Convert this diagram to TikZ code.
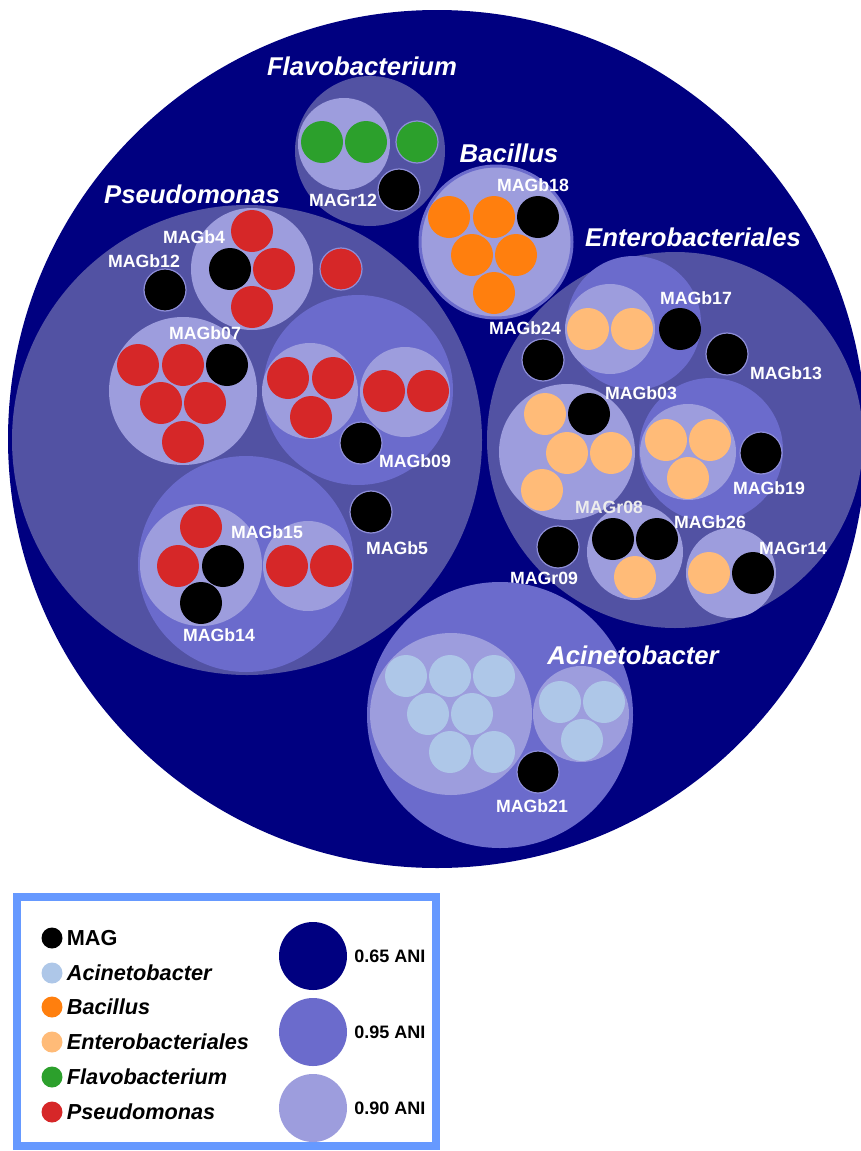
\documentclass[tikz,border=0pt]{standalone}
\usepackage{fontspec}
\setmainfont{Liberation Sans}
\usetikzlibrary{positioning}

\definecolor{navy}{HTML}{000080}
\definecolor{genusblue}{HTML}{5252A3}
\definecolor{anihigh}{HTML}{6B6BCC}
\definecolor{anilow}{HTML}{9D9DDD}
\definecolor{pseudored}{HTML}{D62728}
\definecolor{bacorange}{HTML}{FF7F0E}
\definecolor{enteropeach}{HTML}{FFBB78}
\definecolor{flavogreen}{HTML}{2CA02C}
\definecolor{acinetoblue}{HTML}{AEC7E8}
\definecolor{legendframe}{HTML}{6699FF}

\begin{document}
\begin{tikzpicture}[
    x=1pt, y=-1pt,
    leaf/.style={circle, inner sep=0pt, minimum size=42pt},
    mag/.style={leaf, fill=black},
    pseudo/.style={leaf, fill=pseudored},
    bacil/.style={leaf, fill=bacorange},
    entero/.style={leaf, fill=enteropeach},
    flavo/.style={leaf, fill=flavogreen},
    acineto/.style={leaf, fill=acinetoblue},
    lone/.style={draw=anilow!70!anihigh, line width=1.2pt},
    genus/.style={circle, inner sep=0pt, fill=genusblue},
    ani95/.style={circle, inner sep=0pt, fill=anihigh},
    ani90/.style={circle, inner sep=0pt, fill=anilow},
    taxon/.style={text=white, inner sep=0pt, font=\fontsize{25.7}{30}\selectfont\bfseries\itshape},
    maglabel/.style={text=white, inner sep=0pt, font=\fontsize{17.7}{21}\selectfont\bfseries},
    keydot/.style={circle, inner sep=0pt, minimum size=21pt},
    keytext/.style={inner sep=0pt, font=\fontsize{21.7}{26}\selectfont\bfseries\itshape},
    anitext/.style={inner sep=0pt, font=\fontsize{18}{21}\selectfont\bfseries}
]
\useasboundingbox (0,0) rectangle (861,1151);

% whole sample, 0.65 ANI
\node[circle, inner sep=0pt, fill=navy, minimum size=858pt] (sample) at (437,439) {};

% Flavobacterium
\node[genus, minimum size=150pt] (flavogrp) at (370,151) {};
\node[ani90, minimum size=92pt] (flavoA) at (344,144) {};
\node[flavo] (f1) at (322,142) {};
\node[flavo] (f2) at (366,142) {};
\node[flavo, lone] (f3) at (417,142) {};
\node[mag, lone] (magr12) at (399,190) {};
\node[maglabel] at (343,200) {MAGr12};
\node[taxon] (flavolab) at (362,66) {Flavobacterium};

% Bacillus
\node[ani90, minimum size=152pt, draw=anihigh, line width=3pt] (bacilgrp) at (496,242) {};
\node[bacil] (b1) at (449,217) {};
\node[bacil] (b2) at (494,217) {};
\node[mag] (magb18) at (538,217) {};
\node[bacil] (b3) at (472,255) {};
\node[bacil] (b4) at (516,255) {};
\node[bacil] (b5) at (494,293) {};
\node[maglabel] at (533,185) {MAGb18};
\node[taxon] (bacillab) at (509,153) {Bacillus};

% Pseudomonas
\node[genus, minimum size=470pt] (pseudogrp) at (247,440) {};
\node[taxon] (pseudolab) at (192,194) {Pseudomonas};
% MAGb4
\node[ani90, minimum size=122pt] (pA) at (252,269) {};
\node[pseudo] (p1) at (252,231) {};
\node[mag] (magb4) at (230,269) {};
\node[pseudo] (p2) at (274,269) {};
\node[pseudo] (p3) at (252,307) {};
\node[pseudo, lone] (p4) at (341,269) {};
\node[mag, lone] (magb12) at (165,290) {};
% MAGb07
\node[ani90, minimum size=148pt] (pB) at (183,391) {};
\node[pseudo] (p5) at (138,365) {};
\node[pseudo] (p6) at (183,365) {};
\node[mag] (magb07) at (227,365) {};
\node[pseudo] (p7) at (161,403) {};
\node[pseudo] (p8) at (205,403) {};
\node[pseudo] (p9) at (183,442) {};
% MAGb09
\node[ani95, minimum size=190pt] (pC) at (358,390) {};
\node[ani90, minimum size=96pt] (pC1) at (310,391) {};
\node[pseudo] (p10) at (288,378) {};
\node[pseudo] (p11) at (333,378) {};
\node[pseudo] (p12) at (311,417) {};
\node[ani90, minimum size=90pt] (pC2) at (405,392) {};
\node[pseudo] (p13) at (384,391) {};
\node[pseudo] (p14) at (428,391) {};
\node[mag, lone] (magb09) at (361,443) {};
\node[mag, lone] (magb5) at (371,512) {};
% MAGb15, MAGb14
\node[ani95, minimum size=216pt] (pD) at (246,564) {};
\node[ani90, minimum size=122pt] (pD1) at (201,565) {};
\node[pseudo] (p15) at (201,527) {};
\node[pseudo] (p16) at (178,566) {};
\node[mag] (magb15) at (223,566) {};
\node[mag] (magb14) at (201,603) {};
\node[ani90, minimum size=90pt] (pD2) at (308,566) {};
\node[pseudo] (p17) at (287,566) {};
\node[pseudo] (p18) at (331,566) {};
% labels
\node[maglabel] at (194,237) {MAGb4};
\node[maglabel] at (144,261) {MAGb12};
\node[maglabel] at (205,333) {MAGb07};
\node[maglabel] at (415,461) {MAGb09};
\node[maglabel] at (397,548) {MAGb5};
\node[maglabel] at (267,532) {MAGb15};
\node[maglabel] at (219,635) {MAGb14};

% Enterobacteriales
\node[genus, minimum size=376pt] (enterogrp) at (675,440) {};
\node[taxon] (enterolab) at (693,237) {Enterobacteriales};
% MAGb17
\node[ani95, minimum size=134pt] (eA) at (634,323) {};
\node[ani90, minimum size=90pt] (eA1) at (610,329) {};
\node[entero] (e1) at (588,329) {};
\node[entero] (e2) at (632,329) {};
\node[mag] (magb17) at (680,329) {};
\node[mag, lone] (magb24) at (543,360) {};
\node[mag, lone] (magb13) at (727,354) {};
% MAGb03
\node[ani90, minimum size=136pt] (eB) at (567,452) {};
\node[entero] (e3) at (545,414) {};
\node[mag] (magb03) at (589,414) {};
\node[entero] (e4) at (567,453) {};
\node[entero] (e5) at (611,453) {};
\node[entero] (e6) at (542,490) {};
% MAGb19
\node[ani95, minimum size=144pt] (eC) at (711,450) {};
\node[ani90, minimum size=96pt] (eC1) at (688,452) {};
\node[entero] (e7) at (666,440) {};
\node[entero] (e8) at (710,440) {};
\node[entero] (e9) at (688,478) {};
\node[mag, lone] (magb19) at (761,453) {};
% MAGr08, MAGb26
\node[ani90, minimum size=96pt] (eD) at (635,552) {};
\node[mag] (magr08) at (613,539) {};
\node[mag] (magb26) at (657,539) {};
\node[entero] (e10) at (635,577) {};
\node[mag, lone] (magr09) at (558,547) {};
% MAGr14
\node[ani90, minimum size=90pt] (eE) at (731,573) {};
\node[entero] (e11) at (709,573) {};
\node[mag] (magr14) at (753,573) {};
% labels
\node[maglabel] at (696,298) {MAGb17};
\node[maglabel] at (525,328) {MAGb24};
\node[maglabel] at (786,373) {MAGb13};
\node[maglabel] at (641,393) {MAGb03};
\node[maglabel] at (769,488) {MAGb19};
\node[maglabel, text=white!85!gray] at (609,507) {MAGr08};
\node[maglabel] at (710,522) {MAGb26};
\node[maglabel] at (544,578) {MAGr09};
\node[maglabel] at (793,548) {MAGr14};

% Acinetobacter
\node[ani95, minimum size=266pt] (acinetogrp) at (500,715) {};
\node[ani90, minimum size=162pt] (aA) at (451,714) {};
\node[acineto] (a1) at (406,676) {};
\node[acineto] (a2) at (450,676) {};
\node[acineto] (a3) at (494,676) {};
\node[acineto] (a4) at (428,714) {};
\node[acineto] (a5) at (472,714) {};
\node[acineto] (a6) at (450,752) {};
\node[acineto] (a7) at (494,752) {};
\node[ani90, minimum size=96pt] (aB) at (581,714) {};
\node[acineto] (a8) at (560,702) {};
\node[acineto] (a9) at (604,702) {};
\node[acineto] (a10) at (582,740) {};
\node[mag, lone] (magb21) at (538,772) {};
\node[maglabel] at (532,806) {MAGb21};
\node[taxon] (acinetolab) at (633,655) {Acinetobacter};

% Legend
\node[draw=legendframe, line width=8pt, fill=white, inner sep=0pt,
      minimum width=419pt, minimum height=249pt] (key) at (226.5,1021.5) {};
\node[keydot, fill=black] (kmag) at (52,938) {};
\node[keydot, fill=acinetoblue] (kacineto) at (52,973) {};
\node[keydot, fill=bacorange] (kbacil) at (52,1007) {};
\node[keydot, fill=enteropeach] (kentero) at (52,1042) {};
\node[keydot, fill=flavogreen] (kflavo) at (52,1077) {};
\node[keydot, fill=pseudored] (kpseudo) at (52,1112) {};
\node[keytext, font=\fontsize{21.7}{26}\selectfont\bfseries, right=4pt of kmag] {MAG};
\node[keytext, right=4pt of kacineto] {Acinetobacter};
\node[keytext, right=4pt of kbacil] {Bacillus};
\node[keytext, right=4pt of kentero] {Enterobacteriales};
\node[keytext, right=4pt of kflavo] {Flavobacterium};
\node[keytext, right=4pt of kpseudo] {Pseudomonas};

\node[circle, inner sep=0pt, minimum size=68pt, fill=navy] (k65) at (313,956) {};
\node[circle, inner sep=0pt, minimum size=68pt, fill=anihigh] (k95) at (313,1032) {};
\node[circle, inner sep=0pt, minimum size=68pt, fill=anilow] (k90) at (313,1108) {};
\node[anitext, right=7pt of k65] {0.65 ANI};
\node[anitext, right=7pt of k95] {0.95 ANI};
\node[anitext, right=7pt of k90] {0.90 ANI};

\end{tikzpicture}
\end{document}
